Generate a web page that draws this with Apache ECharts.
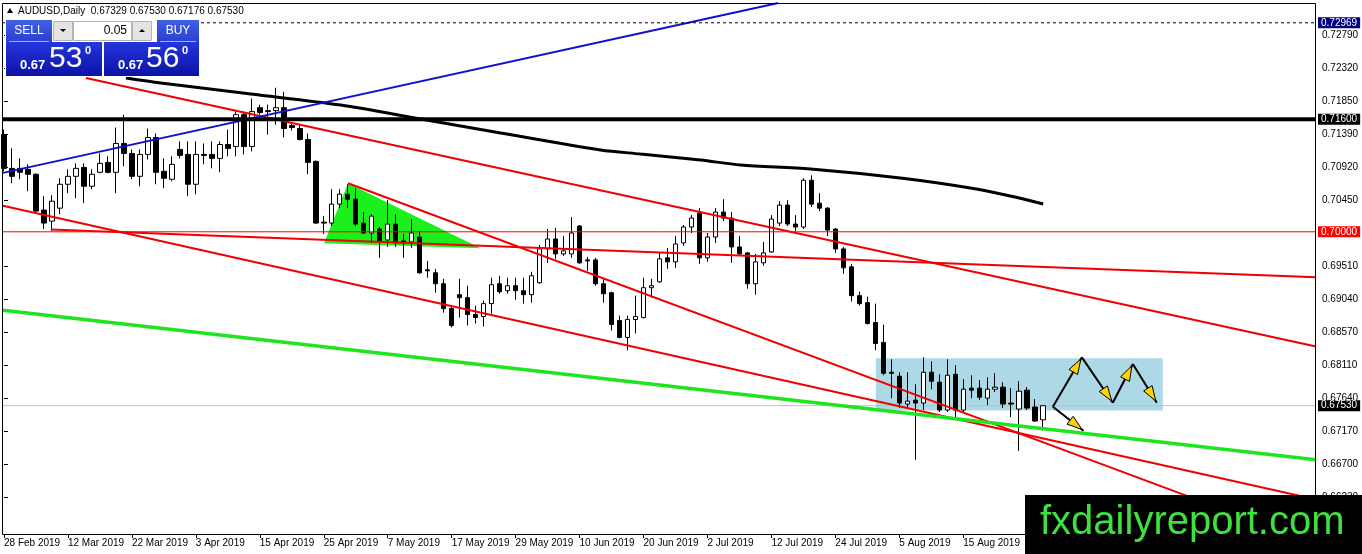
<!DOCTYPE html>
<html><head><meta charset="utf-8">
<script src="https://cdn.jsdelivr.net/npm/echarts@6/dist/echarts.min.js"></script>
<style>html,body{margin:0;padding:0;background:#fff;}#c{width:1362px;height:554px;}</style>
</head><body><div id="c"></div>
<script>
// ---------------- DATA ----------------
const symbolName = 'AUDUSD,Daily';
const firstDate = [2019, 1, 28];   // 28 Feb 2019 (weekday bars)
const totalSlots = 165;            // bars + empty right margin

const opens = [0.71382,0.70901,0.70901,0.70887,0.70817,0.70308,0.70152,0.70336,0.70675,0.70788,
0.70915,0.70647,0.70845,0.70986,0.70845,0.71255,0.71113,0.70788,0.71099,0.71339,
0.70859,0.70746,0.71170,0.71099,0.70675,0.71099,0.71099,0.71043,0.71240,0.71212,
0.71664,0.71212,0.71763,0.71721,0.71721,0.71763,0.71509,0.71467,0.71311,0.71000,
0.70138,0.70124,0.70393,0.70534,0.70463,0.70124,0.69983,0.70039,0.69884,0.70110,
0.69870,0.69856,0.69926,0.69460,0.69418,0.69262,0.68909,0.69107,0.69064,0.68824,
0.68796,0.68980,0.69262,0.69163,0.69234,0.69163,0.69107,0.69276,0.69757,0.69898,
0.69686,0.69686,0.70082,0.69601,0.69601,0.69262,0.69135,0.68739,0.68499,0.68754,
0.68782,0.69206,0.69290,0.69630,0.69573,0.69842,0.70068,0.70265,0.69630,0.69926,
0.70280,0.70195,0.69785,0.69700,0.69262,0.69559,0.69714,0.70124,0.70379,0.70110,
0.70068,0.70732,0.70407,0.70336,0.70039,0.69757,0.69502,0.69093,0.68994,0.68711,
0.68429,0.68005,0.67948,0.67553,0.67609,0.67567,0.68005,0.67863,0.67468,0.67976,
0.67468,0.67779,0.67779,0.67637,0.67764,0.67793,0.67567,0.67482,0.67750,0.67510,
0.67329];
const closes = [0.70901,0.70788,0.70845,0.70817,0.70294,0.70124,0.70435,0.70675,0.70788,0.70901,
0.70647,0.70817,0.70972,0.70845,0.71255,0.71113,0.70788,0.71099,0.71339,0.70845,
0.70760,0.70958,0.71085,0.70675,0.71099,0.71085,0.71043,0.71240,0.71184,0.71664,
0.71212,0.71707,0.71693,0.71707,0.71763,0.71467,0.71481,0.71311,0.70986,0.70124,
0.70124,0.70393,0.70534,0.70463,0.70110,0.69983,0.70223,0.69870,0.70110,0.69856,
0.69856,0.69983,0.69418,0.69446,0.69262,0.68909,0.68669,0.69064,0.68824,0.68782,
0.68980,0.69248,0.69149,0.69234,0.69163,0.69107,0.69375,0.69757,0.69898,0.69686,
0.69729,0.69983,0.69559,0.69587,0.69262,0.69121,0.68683,0.68499,0.68754,0.68796,
0.69206,0.69234,0.69615,0.69573,0.69827,0.70068,0.70195,0.69630,0.69926,0.70280,
0.70195,0.69785,0.69686,0.69262,0.69573,0.69700,0.70181,0.70379,0.70110,0.70068,
0.70732,0.70393,0.70336,0.70025,0.69757,0.69488,0.69093,0.68980,0.68697,0.68414,
0.67990,0.67990,0.67567,0.67595,0.67567,0.68005,0.67877,0.67468,0.67962,0.67468,
0.67764,0.67750,0.67651,0.67764,0.67793,0.67553,0.67553,0.67736,0.67496,0.67312,
0.67530];
const lows = [0.70859,0.70689,0.70746,0.70576,0.70265,0.70039,0.70011,0.70251,0.70548,0.70477,
0.70407,0.70605,0.70831,0.70831,0.70548,0.70930,0.70746,0.70647,0.71028,0.70675,
0.70619,0.70718,0.71043,0.70506,0.70534,0.70958,0.70901,0.70845,0.71071,0.71071,
0.71099,0.71142,0.71664,0.71382,0.71523,0.71339,0.71438,0.71297,0.70817,0.70110,
0.69969,0.70082,0.70336,0.70336,0.70082,0.69969,0.69842,0.69630,0.69785,0.69785,
0.69630,0.69771,0.69404,0.69347,0.69135,0.68852,0.68640,0.68782,0.68669,0.68697,
0.68655,0.68838,0.69121,0.69121,0.69036,0.68980,0.68994,0.69262,0.69559,0.69615,
0.69658,0.69630,0.69545,0.69446,0.69234,0.68994,0.68598,0.68485,0.68316,0.68556,
0.68768,0.69064,0.69276,0.69474,0.69488,0.69799,0.69983,0.69545,0.69573,0.69842,
0.70152,0.69559,0.69672,0.69192,0.69107,0.69517,0.69700,0.70082,0.70082,0.70011,
0.70039,0.70350,0.70294,0.69940,0.69700,0.69404,0.69008,0.68951,0.68683,0.68316,
0.67962,0.67637,0.67496,0.67496,0.66761,0.67468,0.67764,0.67439,0.67439,0.67369,
0.67439,0.67637,0.67609,0.67538,0.67722,0.67496,0.67369,0.66888,0.67468,0.67298,
0.67176];
const highs = [0.71452,0.71184,0.71043,0.70958,0.70831,0.70506,0.70520,0.70760,0.70887,0.70972,
0.70972,0.70887,0.71113,0.71071,0.71481,0.71664,0.71170,0.71170,0.71467,0.71396,
0.71043,0.71071,0.71283,0.71283,0.71283,0.71255,0.71283,0.71283,0.71452,0.71707,
0.71707,0.71890,0.71806,0.71806,0.72046,0.71989,0.71537,0.71523,0.71396,0.71014,
0.70223,0.70605,0.70605,0.70675,0.70619,0.70280,0.70251,0.70068,0.70449,0.70251,
0.69969,0.70181,0.70011,0.69587,0.69474,0.69333,0.68930,0.69333,0.69234,0.68951,
0.69022,0.69347,0.69375,0.69347,0.69347,0.69347,0.69432,0.69813,0.70039,0.70054,
0.69940,0.70209,0.70096,0.69644,0.69630,0.69333,0.69149,0.68810,0.68810,0.69093,
0.69347,0.69333,0.69700,0.69771,0.69940,0.70096,0.70237,0.70336,0.69983,0.70336,
0.70463,0.70280,0.69940,0.69714,0.69686,0.69856,0.70237,0.70435,0.70449,0.70237,
0.70760,0.70802,0.70548,0.70350,0.70054,0.69785,0.69545,0.69149,0.69079,0.68980,
0.68683,0.68188,0.68005,0.68005,0.67835,0.68217,0.68160,0.67976,0.68188,0.68104,
0.67906,0.67962,0.67892,0.67934,0.67990,0.67863,0.67779,0.67877,0.67793,0.67623,
0.67530];

const yTickLabels = ['0.72790','0.72320','0.71850','0.71390','0.70920','0.70450','0.69510',
  '0.69040','0.68570','0.68110','0.67640','0.67170','0.66700','0.66230'];

// moving average (black curve) read at a few bars
const maIdx = [15.25,19.63,30.88,42.13,52.13,62.13,74.63,79.63,87.13,92.13,100.88,112.13,120.88,125.88,130];
const maVal = [0.72185,0.72114,0.71957,0.71801,0.71602,0.71403,0.71162,0.71105,0.71020,0.70949,0.70892,0.70764,0.70622,0.70508,0.70395];

// trendlines: [barIndex, price] endpoints
const blueLine   = [[-0.125,0.70837],[96.85,0.73250]];
const redUpper   = [[10.25,0.72185],[164.125,0.68372]];
const redLowerA  = [[-0.125,0.70369],[164.125,0.66197]];
const redLowerB  = [[43.04,0.70689],[160.9,0.65701]];
const redFlat    = [[5.875,0.70031],[164.125,0.69356]];
const greenLine  = [[-0.125,0.68884],[164.125,0.66762]];

// horizontal levels
const dashLevel  = 0.72969;
const keyLevel   = 0.71600;
const roundLevel = 0.70000;
const bidLevel   = closes[closes.length - 1];

// green triangle, blue range box, arrows
const triIdx = [43.04, 40.04, 59.63];
const triVal = [0.70689, 0.69836, 0.69766];
const zoneIdx = [109.06, 144.96];
const zoneVal = [0.67461, 0.68203];
const zigIdx = [131.21, 134.84, 138.71, 141.21, 144.21];
const zigVal = [0.67515, 0.68217, 0.67572, 0.68122, 0.67572];
const downIdx = [131.21, 135.04];
const downVal = [0.67515, 0.67175];

// ---------------- BUILD ----------------
const months = ['Jan','Feb','Mar','Apr','May','Jun','Jul','Aug','Sep','Oct','Nov','Dec'];
const categories = [];
{
  const d = new Date(Date.UTC(firstDate[0], firstDate[1], firstDate[2]));
  while (categories.length < totalSlots) {
    const wd = d.getUTCDay();
    if (wd !== 0 && wd !== 6) categories.push(d.getUTCDate() + ' ' + months[d.getUTCMonth()] + ' ' + d.getUTCFullYear());
    d.setUTCDate(d.getUTCDate() + 1);
  }
}
const candles = opens.map((o, i) => [o, closes[i], lows[i], highs[i]]);
const maData = maIdx.map((x, i) => [x, maVal[i]]);
const yTickValues = yTickLabels.map(Number);

const FONT = 'Liberation Sans';
const xEnd = totalSlots - 0.875;

function trend(data, color, width, z) {
  return { type: 'line', xAxisIndex: 1, data: data, symbol: 'none', silent: true, z: z || 4,
    lineStyle: { color: color, width: width }, animation: false };
}
function level(price, color, width, type, labelBg, z) {
  return { type: 'line', xAxisIndex: 1, data: [[-0.125, price], [xEnd, price]], symbol: 'none', silent: true, z: z,
    lineStyle: { color: color, width: width, type: type },
    endLabel: { show: true, formatter: () => price.toFixed(5), color: '#fff', backgroundColor: labelBg,
      padding: [1, 3, 0, 3], fontSize: 10, fontFamily: FONT, distance: 2 },
    animation: false };
}
function grad(a, b) {
  return new echarts.graphic.LinearGradient(0, 0, 0, 1, [{ offset: 0, color: a }, { offset: 1, color: b }]);
}

const last = opens.length - 1;
const headerText = symbolName + '  ' + [opens[last], highs[last], lows[last], closes[last]].map(v => v.toFixed(5)).join(' ');

const chart = echarts.init(document.getElementById('c'));
chart.setOption({
  animation: false,
  backgroundColor: '#fff',
  grid: { left: -1, top: 3, width: 1320, height: 532, containLabel: false },
  xAxis: [
    { type: 'category', data: categories, boundaryGap: true,
      axisLine: { show: false },
      axisTick: { show: true, interval: 7, alignWithLabel: true, length: 3, lineStyle: { color: '#000' } },
      axisLabel: { interval: 7, align: 'left', margin: 3, fontSize: 10, fontFamily: FONT, color: '#000', hideOverlap: false },
      splitLine: { show: false } },
    { type: 'value', min: -0.5, max: totalSlots - 0.5, show: false }
  ],
  yAxis: { type: 'value', position: 'right', min: 0.65693, max: 0.73250, offset: -3,
    axisLine: { show: false }, splitLine: { show: false },
    axisTick: { show: true, length: 4, lineStyle: { color: '#000' }, customValues: yTickValues },
    axisLabel: { customValues: yTickValues, formatter: v => v.toFixed(5), color: '#000', fontSize: 10, fontFamily: FONT, margin: 6 } },
  series: [
    { type: 'custom', xAxisIndex: 1, z: 1, silent: true, data: [[zoneIdx[0], zoneVal[0]]],
      renderItem: (params, api) => {
        const p1 = api.coord([zoneIdx[0], zoneVal[1]]);
        const p2 = api.coord([zoneIdx[1], zoneVal[0]]);
        return { type: 'rect', shape: { x: p1[0], y: p1[1], width: p2[0] - p1[0], height: p2[1] - p1[1] }, style: { fill: '#add8e6' } };
      } },
    { type: 'custom', xAxisIndex: 1, z: 1, silent: true, data: [[triIdx[0], triVal[0]]],
      renderItem: (params, api) => ({ type: 'polygon',
        shape: { points: triIdx.map((x, k) => api.coord([x, triVal[k]])) }, style: { fill: '#1cf01c' } }) },
    level(bidLevel, '#c0c0c0', 1, 'solid', '#000', 1.5),
    { type: 'candlestick', xAxisIndex: 0, data: candles, barWidth: 5, z: 2,
      itemStyle: { color: '#ffffff', color0: '#000000', borderColor: '#000', borderColor0: '#000', borderWidth: 1 } },
    { type: 'line', xAxisIndex: 1, data: maData, symbol: 'none', smooth: 0.3, z: 3, silent: true,
      lineStyle: { color: '#000', width: 3 } },
    trend(redFlat, '#f00000', 2),
    trend(redUpper, '#f00000', 2),
    trend(redLowerA, '#f00000', 2),
    trend(redLowerB, '#f00000', 2),
    trend(greenLine, '#1ee61e', 3.5),
    trend(blueLine, '#1010d0', 2),
    level(keyLevel, '#000', 4, 'solid', '#000', 5),
    level(roundLevel, '#ff0000', 1, 'solid', '#ff0000', 5),
    level(dashLevel, '#000', 1, [3, 3], '#000080', 5),
    { type: 'custom', xAxisIndex: 1, z: 6, silent: true, data: [[zigIdx[0], zigVal[0]]],
      renderItem: (params, api) => {
        const lines = [], heads = [];
        [[zigIdx, zigVal], [downIdx, downVal]].forEach(([xs, ys]) => {
          for (let k = 0; k < xs.length - 1; k++) {
            const p = api.coord([xs[k], ys[k]]), q = api.coord([xs[k + 1], ys[k + 1]]);
            const dx = q[0] - p[0], dy = q[1] - p[1], L = Math.hypot(dx, dy), ux = dx / L, uy = dy / L;
            const tip = [q[0] - ux * 2, q[1] - uy * 2], base = [tip[0] - ux * 15, tip[1] - uy * 15];
            lines.push({ type: 'line', shape: { x1: p[0], y1: p[1], x2: q[0], y2: q[1] }, style: { stroke: '#000', lineWidth: 2 } });
            heads.push({ type: 'polygon', shape: { points: [tip, [base[0] - uy * 5, base[1] + ux * 5], [base[0] + uy * 5, base[1] - ux * 5]] },
              style: { fill: '#ffd200', stroke: '#000', lineWidth: 1 } });
          }
        });
        return { type: 'group', children: lines.concat(heads) };
      } }
  ],
  graphic: [
    { type: 'rect', z: 100, shape: { x: 2.5, y: 3.5, width: 1313, height: 531 }, style: { fill: 'none', stroke: '#000', lineWidth: 1 } },
    { type: 'polygon', z: 100, shape: { points: [[7, 13], [13, 13], [10, 8]] }, style: { fill: '#000' } },
    { type: 'text', z: 100, style: { text: headerText, x: 18, y: 11, verticalAlign: 'middle', fill: '#000', font: '10px "Liberation Sans"' } },
    // trading panel
    { type: 'rect', z: 100, shape: { x: 5, y: 19, width: 195, height: 58 }, style: { fill: '#fff' } },
    { type: 'rect', z: 100, shape: { x: 6, y: 20, width: 46, height: 22 }, style: { fill: grad('#3f5fe6', '#2a40d2') } },
    { type: 'line', z: 101, shape: { x1: 9, y1: 41.5, x2: 49, y2: 41.5 }, style: { stroke: '#9fb0f5', lineWidth: 1 } },
    { type: 'text', z: 101, style: { text: 'SELL', x: 29, y: 31, align: 'center', verticalAlign: 'middle', fill: '#fff', font: '12px "Liberation Sans"' } },
    { type: 'rect', z: 100, shape: { x: 53.5, y: 21.5, width: 19, height: 19 }, style: { fill: '#e4e4e4', stroke: '#b4b4b4' } },
    { type: 'polygon', z: 101, shape: { points: [[60, 29], [66, 29], [63, 32]] }, style: { fill: '#000' } },
    { type: 'rect', z: 100, shape: { x: 73.5, y: 21.5, width: 58, height: 19 }, style: { fill: '#fff', stroke: '#b4b4b4' } },
    { type: 'text', z: 101, style: { text: '0.05', x: 127, y: 31, align: 'right', verticalAlign: 'middle', fill: '#000', font: '12px "Liberation Sans"' } },
    { type: 'rect', z: 100, shape: { x: 132.5, y: 21.5, width: 19, height: 19 }, style: { fill: '#e4e4e4', stroke: '#b4b4b4' } },
    { type: 'polygon', z: 101, shape: { points: [[139, 32], [145, 32], [142, 29]] }, style: { fill: '#000' } },
    { type: 'rect', z: 100, shape: { x: 157, y: 20, width: 42, height: 22 }, style: { fill: grad('#3f5fe6', '#2a40d2') } },
    { type: 'line', z: 101, shape: { x1: 160, y1: 41.5, x2: 196, y2: 41.5 }, style: { stroke: '#9fb0f5', lineWidth: 1 } },
    { type: 'text', z: 101, style: { text: 'BUY', x: 178, y: 31, align: 'center', verticalAlign: 'middle', fill: '#fff', font: '12px "Liberation Sans"' } },
    { type: 'rect', z: 100, shape: { x: 6, y: 42, width: 96, height: 34 }, style: { fill: grad('#2436dc', '#0d12a6') } },
    { type: 'rect', z: 100, shape: { x: 104, y: 42, width: 95, height: 34 }, style: { fill: grad('#2436dc', '#0d12a6') } },
    { type: 'text', z: 101, style: { text: '0.67', x: 20, y: 65, verticalAlign: 'middle', fill: '#fff', font: 'bold 13px "Liberation Sans"' } },
    { type: 'text', z: 101, style: { text: '53', x: 49, y: 59, verticalAlign: 'middle', fill: '#fff', font: '30px "Liberation Sans"' } },
    { type: 'text', z: 101, style: { text: '0', x: 85, y: 51, verticalAlign: 'middle', fill: '#fff', font: 'bold 11px "Liberation Sans"' } },
    { type: 'text', z: 101, style: { text: '0.67', x: 118, y: 65, verticalAlign: 'middle', fill: '#fff', font: 'bold 13px "Liberation Sans"' } },
    { type: 'text', z: 101, style: { text: '56', x: 146, y: 59, verticalAlign: 'middle', fill: '#fff', font: '30px "Liberation Sans"' } },
    { type: 'text', z: 101, style: { text: '0', x: 182, y: 51, verticalAlign: 'middle', fill: '#fff', font: 'bold 11px "Liberation Sans"' } },
    // watermark
    { type: 'rect', z: 110, shape: { x: 1025, y: 495, width: 337, height: 59 }, style: { fill: '#000' } },
    { type: 'text', z: 111, style: { text: 'fxdailyreport.com', x: 1040, y: 523, verticalAlign: 'middle', fill: '#3fe03f', font: '40px "Liberation Sans"' } }
  ]
});
</script>
</body></html>
